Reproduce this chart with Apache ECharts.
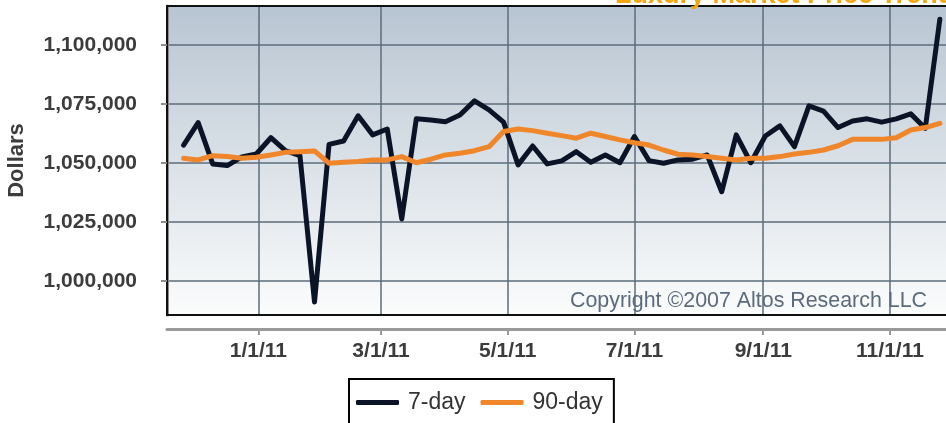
<!DOCTYPE html>
<html>
<head>
    <meta charset="utf-8">
    <script type="text/javascript" src="https://cdn.jsdelivr.net/npm/echarts@6/dist/echarts.min.js"></script>
    <style>
        html, body { margin: 0; padding: 0; background: #fff; overflow: hidden; }
    </style>
</head>
<body>
<!-- the reference is a crop: plot runs past the right edge, so the canvas is wider than the window -->
<div id="main" style="width:990px;height:423px"></div>
<script type="text/javascript">
    // weekly dates
    var dates = ['2010-11-26', '2010-12-03', '2010-12-10', '2010-12-17', '2010-12-24', '2010-12-31',
        '2011-01-07', '2011-01-14', '2011-01-21', '2011-01-28', '2011-02-04', '2011-02-11', '2011-02-18', '2011-02-25',
        '2011-03-04', '2011-03-11', '2011-03-18', '2011-03-25', '2011-04-01', '2011-04-08', '2011-04-15', '2011-04-22',
        '2011-04-29', '2011-05-06', '2011-05-13', '2011-05-20', '2011-05-27', '2011-06-03', '2011-06-10', '2011-06-17',
        '2011-06-24', '2011-07-01', '2011-07-08', '2011-07-15', '2011-07-22', '2011-07-29', '2011-08-05', '2011-08-12',
        '2011-08-19', '2011-08-26', '2011-09-02', '2011-09-09', '2011-09-16', '2011-09-23', '2011-09-30', '2011-10-07',
        '2011-10-14', '2011-10-21', '2011-10-28', '2011-11-04', '2011-11-11', '2011-11-18', '2011-11-25'];
    var sevenDay = [1057600, 1067100, 1049600, 1048900, 1052600, 1053800, 1060700, 1055200, 1053100, 991100,
        1057900, 1059300, 1070000, 1061900, 1064400, 1026300, 1068700, 1068200, 1067500, 1070300,
        1076300, 1072500, 1067300, 1049200, 1057200, 1049600, 1050900, 1054800, 1050300, 1053400,
        1050100, 1061200, 1051000, 1049900, 1051300, 1051600, 1053400, 1037800, 1061900, 1050100,
        1061400, 1065700, 1056900, 1074200, 1072000, 1065000, 1067800, 1068700, 1067300, 1068700,
        1070800, 1064700, 1110900];
    var ninetyDay = [1052000, 1051300, 1053100, 1052700, 1052000, 1052400, 1053400, 1054500, 1054800, 1055100,
        1049900, 1050300, 1050600, 1051300, 1051300, 1052700, 1050100, 1051600, 1053400, 1054100,
        1055200, 1056900, 1063300, 1064400, 1063700, 1062600, 1061600, 1060500, 1062600, 1061200,
        1059800, 1058600, 1057600, 1055500, 1053700, 1053400, 1052700, 1052000, 1051300, 1052000,
        1052000, 1052700, 1053800, 1054500, 1055500, 1057300, 1060000, 1060000, 1060000, 1060700,
        1064000, 1065000, 1066800];
    var xTicks = ['2011-01-01', '2011-03-01', '2011-05-01', '2011-07-01', '2011-09-01', '2011-11-01'];
    var yTicks = [1000000, 1025000, 1050000, 1075000, 1100000];

    function toTime(s) {
        var p = s.split('-');
        return new Date(+p[0], +p[1] - 1, +p[2]).getTime();
    }

    var font = 'Liberation Sans, Arial, sans-serif';
    var xTickVals = xTicks.map(toTime);

    // plain axes used only to draw the black frame (top, left, bottom)
    function frameAxis(pos) {
        return {
            type: 'value', position: pos, offset: 0, min: 0, max: 1,
            axisLine: {show: true, onZero: false, lineStyle: {color: '#111', width: 2}},
            axisTick: {show: false}, axisLabel: {show: false}, splitLine: {show: false}
        };
    }

    var myChart = echarts.init(document.getElementById('main'));
    var option = {
        animation: false,
        grid: {
            left: 167, top: 6, bottom: 108, right: 19,
            outerBoundsMode: 'none',
            show: true,
            borderWidth: 0,
            backgroundColor: new echarts.graphic.LinearGradient(0, 0, 0, 1, [
                {offset: 0, color: '#b8c5d2'},
                {offset: 1, color: '#fbfcfc'}
            ])
        },
        legend: {
            left: 349, top: 379,
            borderColor: '#000', borderWidth: 2,
            padding: [12, 11, 40, 7],
            icon: 'roundRect',
            itemWidth: 43, itemHeight: 5, itemGap: 15,
            textStyle: {fontSize: 23, color: '#333', fontFamily: font, padding: [0, 0, 0, 4]},
            data: ['7-day', '90-day']
        },
        graphic: [
            {
                type: 'text', left: 615, top: -18, z: 10,
                style: {text: 'Luxury Market Price Trends', font: 'bold 27px ' + font, fill: '#f3a60f'}
            },
            {
                type: 'text', left: 570, top: 291, z: 1,
                style: {text: 'Copyright \u00a92007 Altos Research LLC', font: '21.4px ' + font, fill: '#5b6b7c'}
            }
        ],
        xAxis: [
            {
                type: 'value',
                position: 'bottom',
                min: toTime('2010-11-18'),
                max: toTime('2011-12-10'),
                offset: 14,
                axisLine: {show: true, onZero: false, lineStyle: {color: '#9a9a9a', width: 3}},
                axisTick: {show: true, customValues: xTickVals, length: 6, lineStyle: {color: '#9a9a9a', width: 2}},
                axisLabel: {
                    customValues: xTickVals,
                    fontSize: 21, fontWeight: 'bold', color: '#3c3c3c', fontFamily: font, margin: 12,
                    formatter: function (v) {
                        var d = new Date(v);
                        return (d.getMonth() + 1) + '/' + d.getDate() + '/' + String(d.getFullYear()).slice(2);
                    }
                },
                splitLine: {show: true, lineStyle: {color: '#5d6c7b', width: 1.5}}
            },
            frameAxis('bottom'),
            frameAxis('top')
        ],
        yAxis: [
            {
                type: 'value',
                position: 'left',
                min: 985600,
                max: 1116500,
                offset: 14,
                name: 'Dollars',
                nameLocation: 'middle',
                nameRotate: 90,
                nameGap: 125,
                nameTextStyle: {fontSize: 22, fontWeight: 'bold', color: '#3c3c3c', fontFamily: font},
                axisLine: {show: true, lineStyle: {color: '#8c8c8c', width: 3}},
                axisTick: {show: true, customValues: yTicks, length: 6, lineStyle: {color: '#8c8c8c', width: 2}},
                axisLabel: {
                    customValues: yTicks,
                    fontSize: 21, fontWeight: 'bold', color: '#3c3c3c', fontFamily: font, margin: 16,
                    formatter: function (v) { return Number(v).toLocaleString('en-US'); }
                },
                splitLine: {show: true, lineStyle: {color: '#5d6c7b', width: 1.5}}
            },
            frameAxis('left')
        ],
        series: [
            {
                name: '7-day', type: 'line', symbol: 'none', color: '#0b1427',
                xAxisIndex: 0, yAxisIndex: 0,
                lineStyle: {width: 5, join: 'round', cap: 'round'},
                data: dates.map(function (d, i) { return [toTime(d), sevenDay[i]]; })
            },
            {
                name: '90-day', type: 'line', symbol: 'none', color: '#f0862a',
                xAxisIndex: 0, yAxisIndex: 0,
                lineStyle: {width: 5, join: 'round', cap: 'round'},
                data: dates.map(function (d, i) { return [toTime(d), ninetyDay[i]]; })
            }
        ]
    };
    myChart.setOption(option);
</script>
</body>
</html>
